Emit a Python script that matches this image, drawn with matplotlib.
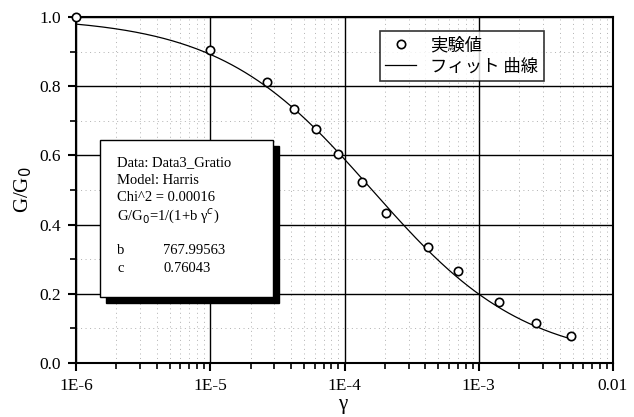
import numpy as np
import matplotlib.pyplot as plt
from matplotlib.ticker import FixedLocator, LogLocator, NullFormatter
from matplotlib.patches import Rectangle

# measured shear strain and modulus ratio
gamma = [1.0e-6, 1.0e-5, 2.64e-5, 4.19e-5, 6.1e-5, 8.87e-5, 1.34e-4,
         2.05e-4, 4.19e-4, 6.98e-4, 1.41e-3, 2.69e-3, 4.89e-3]
g_ratio = [1.0, 0.905, 0.812, 0.734, 0.676, 0.604, 0.523,
           0.434, 0.335, 0.266, 0.176, 0.116, 0.078]

# Harris model fit parameters
b = 767.99563
c = 0.76043
chi2 = 0.00016

xticks = [1e-6, 1e-5, 1e-4, 1e-3, 1e-2]
xticklabels = ['1E-6', '1E-5', '1E-4', '1E-3', '0.01']

plt.rcParams['font.family'] = ['Liberation Serif', 'Noto Sans CJK JP']

fig = plt.figure(figsize=(6.34, 4.17), dpi=100)
ax = fig.add_axes([76/634, 1-363/417, (613-76)/634, (363-17)/417])

g = np.logspace(-6, np.log10(4.9e-3), 300)
fit = 1/(1 + b*g**c)
ax.plot(g, fit, color='black', lw=0.9, label='フィット 曲線', zorder=3)
ax.plot(gamma, g_ratio, 'o', mfc='white', mec='black', mew=1.2, ms=6,
        label='実験値', zorder=4, clip_on=False)

ax.set_xscale('log')
ax.set_xlim(1e-6, 1e-2)
ax.set_ylim(0, 1.0)
ax.set_xticks(xticks)
ax.set_xticklabels(xticklabels)
ax.xaxis.set_minor_locator(LogLocator(base=10, subs=np.arange(2, 10)))
ax.xaxis.set_minor_formatter(NullFormatter())
ax.set_yticks(np.arange(0, 1.01, 0.2))
ax.set_yticklabels(['%.1f' % v for v in np.arange(0, 1.01, 0.2)])
ax.yaxis.set_minor_locator(FixedLocator(np.arange(0.1, 1.0, 0.2)))

ax.grid(which='major', color='black', lw=1.0)
ax.grid(which='minor', color='#999999', lw=0.5, linestyle=(0, (1.5, 5)))
ax.tick_params(which='major', direction='out', length=6, width=1.5,
               labelsize=12.5, pad=5)
ax.tick_params(which='minor', direction='out', length=4, width=1.2)
for s in ax.spines.values():
    s.set_linewidth(1.5)

# x label sits low, close to the bottom edge
fig.text(343/634, 1-409/417, 'γ', fontsize=15, ha='center', va='baseline')
ax.set_ylabel('G/G$_0$', fontsize=15, labelpad=4)

leg = ax.legend(handles=ax.lines[::-1], loc='upper left',
                bbox_to_anchor=(0.55, 0.985), frameon=True, fancybox=False,
                edgecolor='black', handlelength=1.8, handletextpad=0.8,
                borderpad=0.3, labelspacing=0.2,
                prop={'family': ['Noto Sans CJK JP'], 'size': 12.5})
leg.get_frame().set_linewidth(1.2)

# fit summary box with a drop shadow
bx0, by0, bw, bh = 100/634, 1-297/417, 173/634, 157/417
fig.patches.append(Rectangle((bx0+6/634, by0-6/417), bw, bh,
                             transform=fig.transFigure, color='black',
                             zorder=5))
fig.patches.append(Rectangle((bx0, by0), bw, bh, transform=fig.transFigure,
                             facecolor='white', edgecolor='black', lw=1.0,
                             zorder=6))
lines = ['Data: Data3_Gratio', 'Model: Harris',
         'Chi^2 = %.5f' % chi2, 'G/G$_0$=1/(1+b γ$^c$)']
ty = 1-163/417
for t in lines:
    fig.text(117/634, ty, t, fontsize=10.5, va='center', zorder=7)
    ty -= 17.5/417
ty -= 17.5/417
for name, val in [('b', '%.5f' % b), ('c', '%.5f' % c)]:
    fig.text(117/634, ty, name, fontsize=10.5, va='center', zorder=7)
    fig.text(163/634, ty, val, fontsize=10.5, va='center', zorder=7)
    ty -= 17.5/417

fig.savefig('out.png', dpi=100)
